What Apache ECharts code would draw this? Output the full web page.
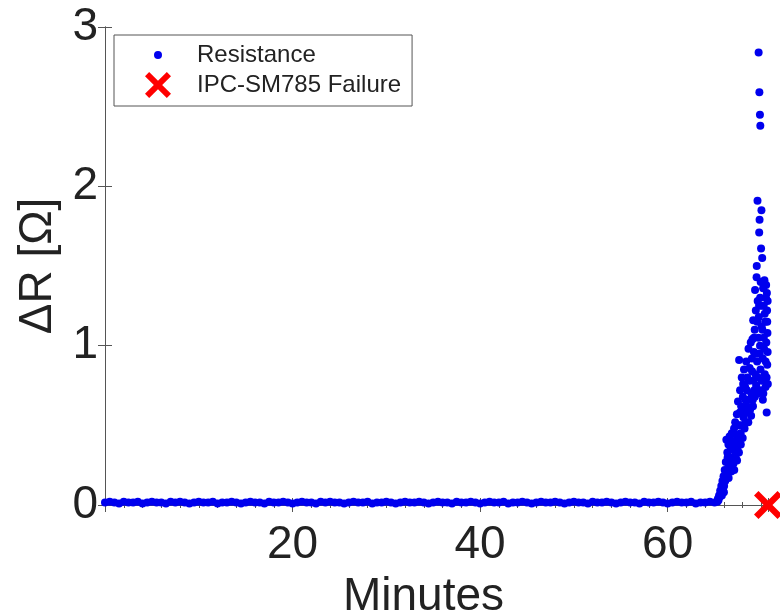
<!DOCTYPE html>
<html>
<head>
<meta charset="utf-8">
<script src="https://cdn.jsdelivr.net/npm/echarts@6/dist/echarts.min.js"></script>
<style>
  html, body { margin: 0; padding: 0; background: #fff; }
  #main { width: 780px; height: 613px; }
</style>
</head>
<body>
<div id="main"></div>
<script>
// flat part of the record, one reading every half minute from t = 0
var baselineStep = 0.5;
var baselineValues = [
  0.015, 0.02, 0.015, 0.01, 0.02, 0.015, 0.015, 0.02, 0.01, 0.015,
  0.02, 0.015, 0.015, 0.01, 0.02, 0.015, 0.02, 0.015, 0.01, 0.015,
  0.02, 0.015, 0.015, 0.02, 0.01, 0.015, 0.015, 0.02, 0.015, 0.01,
  0.015, 0.02, 0.015, 0.015, 0.01, 0.02, 0.015, 0.015, 0.02, 0.015,
  0.01, 0.015, 0.02, 0.015, 0.015, 0.01, 0.02, 0.015, 0.02, 0.015,
  0.015, 0.01, 0.015, 0.02, 0.015, 0.015, 0.02, 0.01, 0.015, 0.015,
  0.02, 0.015, 0.01, 0.015, 0.02, 0.015, 0.015, 0.02, 0.015, 0.01,
  0.015, 0.02, 0.015, 0.015, 0.01, 0.02, 0.015, 0.015, 0.02, 0.015,
  0.01, 0.015, 0.02, 0.015, 0.015, 0.02, 0.01, 0.015, 0.015, 0.02,
  0.015, 0.01, 0.015, 0.02, 0.015, 0.015, 0.02, 0.015, 0.01, 0.015,
  0.02, 0.015, 0.015, 0.01, 0.02, 0.015, 0.015, 0.02, 0.015, 0.01,
  0.015, 0.02, 0.015, 0.015, 0.01, 0.02, 0.015, 0.015, 0.02, 0.015,
  0.01, 0.015, 0.02, 0.015, 0.015, 0.02, 0.01, 0.015, 0.015, 0.02,
  0.015
];

// rising part before failure
var riseMinutes = [
  65.30, 65.36, 65.42, 65.48, 65.54, 65.60, 65.66, 65.72, 65.78, 65.84,
  65.90, 65.96, 66.02, 66.08, 66.14, 66.20, 66.26, 66.30, 66.36, 66.42,
  66.48, 66.54, 66.60, 66.66, 66.72, 66.78, 66.84, 66.90, 66.96, 67.02,
  67.08, 67.14, 67.20, 67.26, 67.32, 67.38, 67.44, 67.50, 67.56, 67.62,
  67.66, 67.72, 67.78, 67.84, 67.90, 67.96, 68.02, 68.08, 68.14, 68.20,
  68.26, 68.32, 68.38, 68.44, 68.50, 68.56, 68.62, 68.68, 68.74, 68.80,
  68.86, 68.92, 68.98, 69.04, 69.08, 69.12, 69.16, 69.20, 69.24, 69.28,
  69.32, 69.36, 69.40, 69.44, 69.48, 69.50, 69.54, 69.58, 69.60, 69.64,
  69.68, 69.70, 69.72, 69.76, 69.78, 69.80, 69.82, 69.84, 69.86, 69.88,
  69.90, 69.92, 69.96, 70.00, 70.02, 70.04, 70.08, 70.10, 70.14, 70.18,
  70.20, 70.24, 70.28, 70.32, 70.36, 70.40, 70.44, 70.48, 70.52, 70.56,
  70.58, 70.60, 70.62, 70.64, 70.66, 70.68,
  66.00, 66.10, 66.25, 66.40, 66.50, 66.70, 66.80, 67.00, 67.10, 67.25,
  67.40, 67.45, 67.60, 67.70, 67.80, 68.00, 68.05, 68.20, 68.30, 68.45,
  68.60, 68.70, 68.90, 69.00, 69.10, 69.20, 69.30, 69.40, 69.55, 69.65,
  69.75, 69.85, 69.95, 70.05, 70.15, 70.25, 70.35, 70.45, 70.50, 70.55,
  70.62, 70.66
];
var riseValues = [
  0.02, 0.04, 0.03, 0.06, 0.05, 0.09, 0.07, 0.12, 0.06, 0.15,
  0.10, 0.18, 0.12, 0.22, 0.15, 0.27, 0.41, 0.18, 0.33, 0.22,
  0.38, 0.25, 0.43, 0.28, 0.36, 0.21, 0.45, 0.30, 0.40, 0.26,
  0.48, 0.34, 0.52, 0.30, 0.44, 0.57, 0.36, 0.65, 0.42, 0.91,
  0.50, 0.72, 0.45, 0.62, 0.80, 0.50, 0.68, 0.55, 0.85, 0.58,
  0.74, 0.52, 0.90, 0.62, 0.80, 0.58, 0.98, 0.66, 0.86, 0.60,
  1.02, 0.70, 0.92, 1.04, 0.66, 1.16, 0.78, 0.96, 0.72, 1.10,
  1.35, 0.82, 1.22, 0.75, 1.43, 1.50, 0.90, 1.91, 1.28, 0.80,
  1.05, 2.84, 1.18, 1.71, 2.59, 1.79, 0.95, 2.45, 1.30, 2.38,
  0.85, 1.40, 1.61, 1.85, 1.12, 0.78, 1.55, 1.10, 0.92, 1.36,
  0.70, 1.25, 0.98, 1.41, 0.82, 1.15, 0.74, 1.30, 1.02, 0.58,
  1.33, 1.22, 0.88, 1.08, 0.96, 0.76,
  0.08, 0.18, 0.20, 0.30, 0.17, 0.25, 0.38, 0.35, 0.22, 0.40,
  0.28, 0.50, 0.33, 0.58, 0.38, 0.42, 0.76, 0.48, 0.66, 0.72,
  0.52, 0.78, 0.56, 0.84, 0.62, 1.05, 0.68, 0.95, 1.15, 0.70,
  1.25, 1.00, 0.72, 1.25, 0.66, 1.05, 1.20, 0.90, 1.38, 0.80,
  1.15, 1.28
];

var failureMinute = 70.7;
var failureValue = 0;

var xTicks = [20, 40, 60];
var yTicks = [0, 1, 2, 3];

var crossPath = 'path://M0,1.6 L1.6,0 L5,3.4 L8.4,0 L10,1.6 L6.6,5 L10,8.4 L8.4,10 L5,6.6 L1.6,10 L0,8.4 L3.4,5 Z';
var dotPath = 'path://M0,0 L0.01,0 L0.01,0.01 Z M26,26 L25.99,26 L25.99,25.99 Z M13,9 A4,4 0 1 1 13,17 A4,4 0 1 1 13,9 Z';

var resistance = [];
for (var i = 0; i < baselineValues.length; i++) {
  resistance.push([i * baselineStep, baselineValues[i]]);
}
for (var j = 0; j < riseMinutes.length; j++) {
  resistance.push([riseMinutes[j], riseValues[j]]);
}

var font = 'Liberation Sans, Arial, sans-serif';
var axisColor = '#555';

var myChart = echarts.init(document.getElementById('main'));

var option = {
  backgroundColor: '#fff',
  animation: false,
  textStyle: { fontFamily: font },
  grid: { left: 105, right: 12, top: 27, bottom: 108, outerBoundsMode: 'none' },
  legend: {
    orient: 'vertical',
    left: 114,
    top: 35,
    padding: [7, 11, 8, 31],
    itemWidth: 68,
    itemHeight: 26,
    itemGap: 4,
    borderColor: '#555',
    borderWidth: 1,
    backgroundColor: '#fff',
    textStyle: { fontSize: 24, color: '#222', fontFamily: font, lineHeight: 26 },
    data: [
      { name: 'Resistance', icon: dotPath },
      { name: 'IPC-SM785 Failure', icon: crossPath }
    ]
  },
  xAxis: [
    {
      type: 'value',
      position: 'bottom',
      min: 0,
      max: failureMinute,
      interval: 20,
      name: 'Minutes',
      nameLocation: 'middle',
      nameGap: 69,
      nameTextStyle: { fontSize: 46, color: '#222', padding: [0, 26, 0, 0] },
      axisLine: { lineStyle: { color: axisColor, width: 1 } },
      axisTick: { inside: true, length: 7, lineStyle: { color: axisColor } },
      minorTick: { show: true, splitNumber: 10, length: 3, lineStyle: { color: axisColor } },
      axisLabel: {
        fontSize: 46, color: '#222', margin: 17,
        showMinLabel: false, showMaxLabel: false,
        formatter: function (v) { return xTicks.indexOf(v) >= 0 ? String(v) : ''; }
      },
      splitLine: { show: false }
    },
    {
      type: 'value',
      position: 'top',
      min: 0,
      max: failureMinute,
      interval: 20,
      axisLine: { lineStyle: { color: axisColor, width: 1 } },
      axisTick: { inside: true, length: 7, lineStyle: { color: axisColor } },
      minorTick: { show: true, splitNumber: 10, length: 3, lineStyle: { color: axisColor } },
      axisLabel: { show: false },
      splitLine: { show: false }
    }
  ],
  yAxis: [
    {
      type: 'value',
      position: 'left',
      min: 0,
      max: 3,
      interval: 1,
      name: 'ΔR [Ω]',
      nameLocation: 'middle',
      nameGap: 44,
      nameTextStyle: { fontSize: 46, color: '#222' },
      axisLine: { show: true, lineStyle: { color: axisColor, width: 1 } },
      axisTick: { show: true, inside: true, length: 7, lineStyle: { color: axisColor } },
      axisLabel: {
        fontSize: 46, color: '#222', margin: 7,
        formatter: function (v) { return yTicks.indexOf(v) >= 0 ? String(v) : ''; }
      },
      splitLine: { show: false }
    },
    {
      type: 'value',
      position: 'right',
      min: 0,
      max: 3,
      interval: 1,
      axisLine: { show: true, lineStyle: { color: axisColor, width: 1 } },
      axisTick: { show: true, inside: true, length: 7, lineStyle: { color: axisColor } },
      axisLabel: { show: false },
      splitLine: { show: false }
    }
  ],
  series: [
    {
      name: 'Resistance',
      type: 'scatter',
      xAxisIndex: 0,
      yAxisIndex: 0,
      symbol: 'circle',
      symbolSize: 8,
      itemStyle: { color: '#0000ee', opacity: 1 },
      data: resistance,
      z: 3
    },
    {
      name: 'IPC-SM785 Failure',
      type: 'scatter',
      xAxisIndex: 0,
      yAxisIndex: 0,
      symbol: crossPath,
      symbolSize: 28,
      clip: false,
      itemStyle: { color: '#ff0000', opacity: 1 },
      data: [[failureMinute, failureValue]],
      z: 4
    }
  ]
};

myChart.setOption(option);
</script>
</body>
</html>
